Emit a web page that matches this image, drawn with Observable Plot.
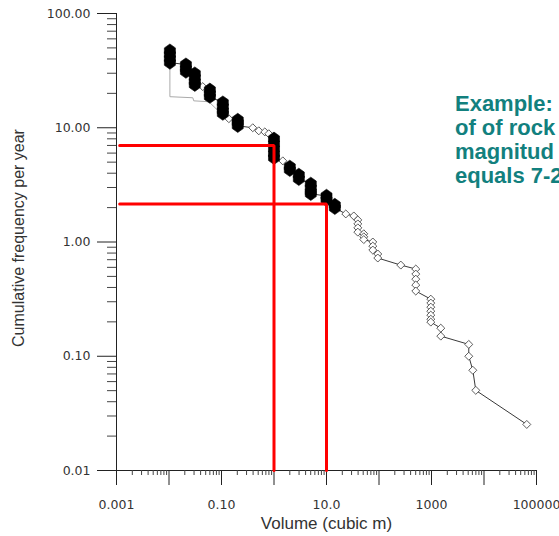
<!DOCTYPE html>
<html><head><meta charset="utf-8">
<script src="https://cdn.jsdelivr.net/npm/d3@7"></script>
<script src="https://cdn.jsdelivr.net/npm/@observablehq/plot@0.6"></script>
<style>html,body{margin:0;padding:0;background:#fff;overflow:hidden;width:559px;height:536px}</style>
</head><body><div id="chart"></div>
<script>
// Main event series: volume (m³), cumulative frequency per year, filled marker (1) or open (0)
const mainVolume = [0.0104,0.0104,0.0104,0.0104, 0.021,0.021,0.021, 0.031,0.031,0.031,0.031, 0.044,
  0.060,0.060,0.060, 0.106,0.106,0.106,0.106, 0.138, 0.204,0.204,0.204, 0.394,0.513,0.668,0.796,
  1.0,1.0,1.0,1.0,1.0, 1.47, 2.0,2.0, 2.97,2.97, 5.02,5.02,5.02,5.02, 10,10, 14.4,14.4,
  23.3, 33.1, 39.5,39.5,39.5,39.5, 51.3,51.3,51.3, 76.2,76.2,76.2, 94.8,94.8, 260,
  502,502,502,502,502, 970,970,970,970,970,970,970, 1503,1503, 5130,5130, 6120, 6980, 65300];
const mainFreq = [47.3,43.7,40.3,37.2, 35.7,32.9,31.0, 29.8,27.5,25.3,23.8, 22.9,
  21.5,19.9,18.7, 16.6,15.3,14.1,13.3, 12.0, 11.7,11.1,10.4, 10.0,9.4,9.2,8.86,
  8.01,7.24,6.54,5.91,5.46, 5.13, 4.55,4.28, 3.87,3.57, 3.23,2.98,2.75,2.64, 2.53,2.34, 2.11,1.99,
  1.76, 1.69, 1.56,1.44,1.33,1.22, 1.18,1.11,1.05, 1.0,0.92,0.85, 0.785,0.724, 0.628,
  0.580,0.524,0.473,0.420,0.372, 0.316,0.292,0.269,0.248,0.229,0.211,0.199, 0.176,0.150, 0.127,0.100, 0.0754, 0.0503, 0.0253];
const mainFilled = [1,1,1,1, 1,1,1, 1,1,1,1, 0,
  1,1,1, 1,1,1,1, 0, 1,1,1, 0,0,0,0,
  1,1,1,1,1, 0, 1,1, 1,1, 1,1,1,1, 1,1, 1,1,
  0, 0, 0,0,0,0, 0,0,0, 0,0,0, 0,0, 0,
  0,0,0,0,0, 0,0,0,0,0,0,0, 0,0, 0,0, 0, 0, 0];

// Secondary (grey) step curve
const greyVolume = [0.0104, 0.0104, 0.0284, 0.0296, 0.0573, 0.075, 0.11, 0.138];
const greyFreq   = [37.2, 18.7, 18.3, 17.2, 16.9, 15.0, 12.6, 12.0];

// Red reading lines (volume, frequency)
const refVolume = [1, 10];
const refFreq = [7, 2.15];

// Axis ticks and labels
const xMajor = [0.001, 0.01, 0.1, 1, 10, 100, 1000, 10000, 100000];
const xLabelValues = [0.001, 0.1, 10, 1000, 100000];
const xLabelTexts = ["0.001", "0.10", "10.0", "1000", "100000"];
const yMajor = [0.01, 0.1, 1, 10, 100];
const yLabelTexts = ["0.01", "0.10", "1.00", "10.00", "100.00"];
const minorMultipliers = [2, 3, 4, 5, 6, 7, 8, 9];

const xTitle = "Volume (cubic m)";
const yTitle = "Cumulative frequency per year";
const noteLines = ["Example:", "of of rock", "magnitud", "equals 7-2"];

const main = mainVolume.map((v, i) => ({volume: v, freq: mainFreq[i], filled: mainFilled[i] === 1}));
const grey = greyVolume.map((v, i) => ({volume: v, freq: greyFreq[i]}));
const xMinor = xMajor.slice(0, -1).flatMap(d => minorMultipliers.map(m => d * m));
const yMinor = yMajor.slice(0, -1).flatMap(d => minorMultipliers.map(m => d * m));
const xLab = new Map(xLabelValues.map((v, i) => [v, xLabelTexts[i]]));
const yLab = new Map(yMajor.map((v, i) => [v, yLabelTexts[i]]));
const refSegs = refVolume.flatMap((v, i) => [
  {k: i, volume: 0.00115, freq: refFreq[i]},
  {k: i, volume: v, freq: refFreq[i]},
  {k: i, volume: v, freq: 0.01}
]);

// vertical hexagon marker (pointy top/bottom)
const hexagon = {
  draw(context, size) {
    const s = Math.sqrt(size / Math.PI);
    const w = 1.2 * s, h = 1.45 * s, t = 0.85 * s;
    context.moveTo(0, -h);
    context.lineTo(w, -h + t);
    context.lineTo(w, h - t);
    context.lineTo(0, h);
    context.lineTo(-w, h - t);
    context.lineTo(-w, -h + t);
    context.closePath();
  }
};

const font = "DejaVu Sans, sans-serif";
const chart = Plot.plot({
  width: 559, height: 536,
  marginLeft: 116, marginRight: 23, marginTop: 13, marginBottom: 66,
  style: {fontFamily: font, fontSize: "12.5px", color: "#333", background: "#fff"},
  x: {type: "log", domain: [0.001, 100000]},
  y: {type: "log", domain: [0.01, 100]},
  marks: [
    Plot.ruleX([0.001], {y1: 0.01, y2: 100, stroke: "#222", strokeWidth: 1}),
    Plot.ruleY([0.01], {x1: 0.001, x2: 100000, stroke: "#222", strokeWidth: 1}),
    Plot.axisY({ticks: yMajor, tickSize: 19, tickPadding: 7, tickFormat: d => yLab.get(d), label: null, stroke: "#222"}),
    Plot.axisY({ticks: yMinor, tickSize: 9, tickFormat: () => "", label: null, stroke: "#444"}),
    Plot.axisX({ticks: xMajor, tickSize: 15, tickPadding: 15, tickFormat: d => xLab.get(d) ?? "", label: null, stroke: "#222"}),
    Plot.axisX({ticks: xMinor, tickSize: 5, tickFormat: () => "", label: null, stroke: "#444"}),
    Plot.text([xTitle], {frameAnchor: "bottom", dy: 58, fontSize: 17, fontFamily: "Liberation Sans, Arial, sans-serif", fill: "#333"}),
    Plot.text([yTitle], {frameAnchor: "left", textAnchor: "middle", rotate: -90, dx: -98, dy: -4, fontSize: 16, fontFamily: "Liberation Sans, Arial, sans-serif", fill: "#333"}),
    Plot.line(grey, {x: "volume", y: "freq", stroke: "#aaa", strokeWidth: 1}),
    Plot.line(main, {x: "volume", y: "freq", stroke: "#222", strokeWidth: 0.9}),
    Plot.dot(main.filter(d => !d.filled), {x: "volume", y: "freq", symbol: "diamond2", r: 3.6, fill: "white", stroke: "#333", strokeWidth: 0.8}),
    Plot.dot(main.filter(d => d.filled), {x: "volume", y: "freq", symbol: hexagon, r: 4.6, fill: "black", stroke: "black", strokeWidth: 0.6}),
    Plot.line(refSegs, {x: "volume", y: "freq", z: "k", stroke: "#ff0000", strokeWidth: 3, strokeLinejoin: "miter"}),
    Plot.text([noteLines.join("\n")], {x: () => 2800, y: () => 19.5, textAnchor: "start", lineAnchor: "top", lineHeight: 1.08, fontSize: 22, fontWeight: "bold", fill: "#12807e", fontFamily: "Liberation Sans, Arial, sans-serif"})
  ]
});
document.getElementById("chart").appendChild(chart);
</script></body></html>
